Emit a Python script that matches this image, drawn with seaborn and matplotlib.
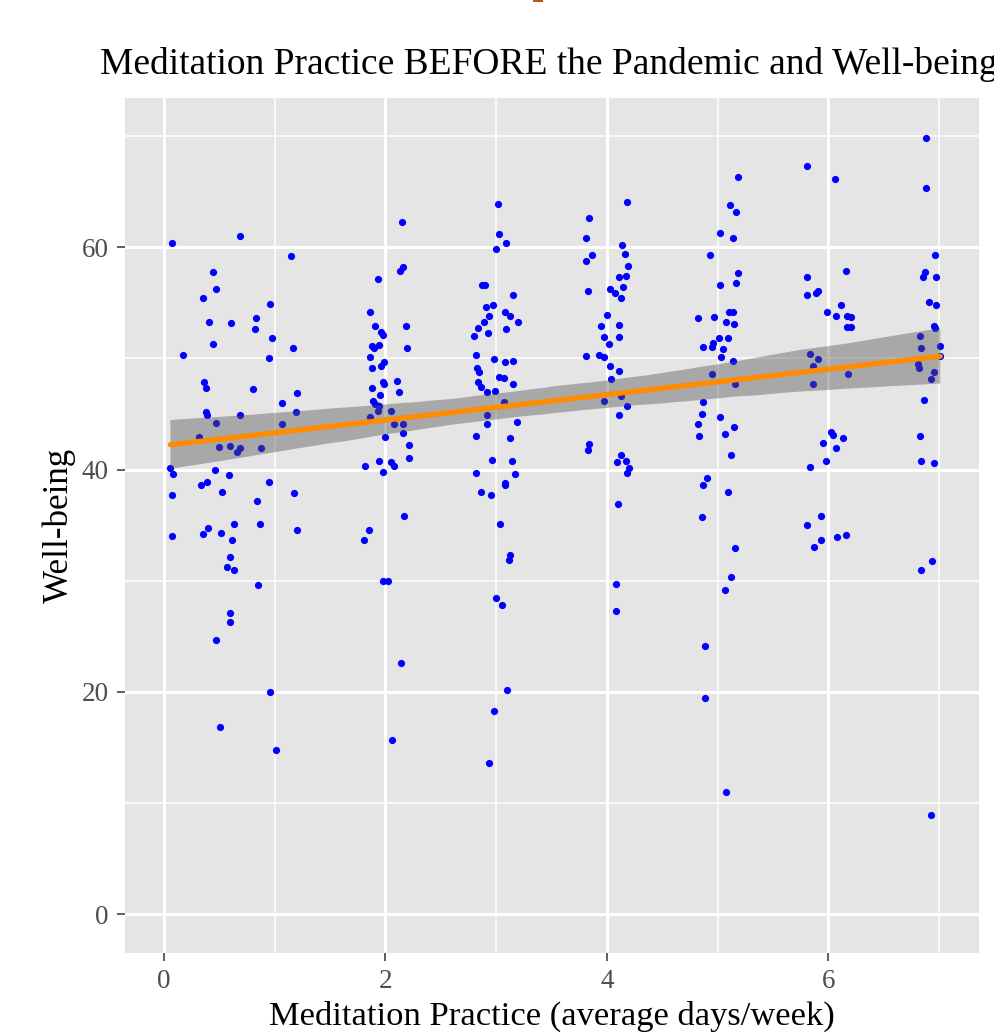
import numpy as np
import pandas as pd
import matplotlib
matplotlib.use("Agg")
import matplotlib.pyplot as plt
from matplotlib.patches import Rectangle
import seaborn as sns

# ---- data (jittered practice days, well-being score) ----
days_g0 = [0.07, 0.69, 1.15, 0.44, 0.47, 0.35, 0.96, 0.41, 0.61, 0.83, 0.82, 0.98, 0.44, 1.17, 0.17,
           0.95, 0.36, 0.38, 0.81, 1.20, 1.07, 1.19, 0.38, 0.39, 0.69, 0.47, 1.07, 0.32, 0.50, 0.60,
           0.69, 0.66, 0.88, 0.06, 0.08, 0.46, 0.59, 0.34, 0.39, 0.95, 0.07, 0.53, 1.18, 0.84, 0.63,
           0.87, 1.20, 0.07, 0.40, 0.35, 0.52, 0.62, 0.60, 0.57, 0.63, 0.85, 0.60, 0.60, 0.47, 0.96,
           0.51, 1.01]
well_g0 = [60.4, 61.0, 59.2, 57.8, 56.2, 55.4, 54.9, 53.3, 53.2, 53.6, 52.6, 51.8, 51.3, 50.9, 50.3,
           50.0, 47.9, 47.3, 47.2, 46.9, 46.0, 45.2, 45.2, 44.9, 44.9, 44.2, 44.1, 42.9, 42.0, 42.1,
           41.9, 41.6, 41.9, 40.1, 39.6, 40.0, 39.5, 38.6, 38.9, 38.9, 37.7, 38.0, 37.9, 37.2, 35.1,
           35.1, 34.6, 34.0, 34.7, 34.2, 34.3, 33.7, 32.1, 31.2, 31.0, 29.6, 27.1, 26.3, 24.7, 20.0,
           16.8, 14.8]

days_g2 = [2.15, 2.16, 2.13, 1.93, 1.86, 1.91, 1.96, 1.98, 2.19, 1.94, 1.90, 1.88, 2.20, 1.86, 1.99,
           1.96, 1.88, 2.11, 1.98, 1.99, 1.88, 2.12, 1.95, 1.89, 1.91, 1.94, 1.93, 2.05, 1.86, 2.08,
           2.16, 2.16, 2.00, 2.21, 2.21, 1.94, 2.05, 2.08, 1.82, 1.98, 2.17, 1.85, 1.81, 1.98, 2.02,
           2.14, 2.06]
well_g2 = [62.3, 58.2, 57.9, 57.1, 54.2, 52.9, 52.4, 52.1, 52.9, 51.2, 50.9, 51.1, 50.9, 50.1, 49.7,
           49.3, 49.1, 48.0, 47.9, 47.7, 47.3, 47.0, 46.7, 46.2, 45.9, 45.7, 45.3, 45.3, 44.7, 44.1,
           44.1, 43.3, 42.9, 42.2, 41.0, 40.8, 40.7, 40.3, 40.3, 39.8, 35.8, 34.6, 33.7, 30.0, 30.0,
           22.6, 15.7]

days_g3 = [3.02, 3.03, 3.09, 3.00, 2.87, 2.90, 3.15, 2.91, 2.97, 2.94, 2.89, 3.08, 3.13, 3.20, 2.84,
           2.93, 3.09, 2.80, 2.82, 2.98, 3.08, 3.15, 2.83, 2.85, 3.03, 3.07, 3.15, 2.84, 2.86, 2.92,
           2.99, 3.07, 2.92, 2.92, 3.19, 2.82, 3.13, 2.96, 3.14, 2.82, 3.17, 3.08, 3.08, 2.86, 2.95,
           3.04, 3.13, 3.12, 3.00, 3.05, 3.10, 2.98, 2.94]
well_g3 = [63.9, 61.2, 60.4, 59.8, 56.6, 56.6, 55.7, 54.6, 54.8, 53.8, 53.3, 54.2, 53.8, 53.3, 52.7,
           52.3, 52.6, 52.0, 50.3, 49.9, 49.7, 49.8, 49.1, 48.8, 48.3, 48.2, 47.7, 47.9, 47.4, 47.0,
           47.1, 46.1, 44.9, 44.1, 44.3, 43.0, 42.8, 40.9, 40.8, 39.7, 39.6, 38.8, 38.6, 38.0, 37.7,
           35.1, 32.3, 31.9, 28.4, 27.8, 20.2, 18.3, 13.6]

days_g4 = [4.18, 3.84, 3.81, 4.14, 3.87, 3.81, 4.16, 4.19, 4.11, 4.17, 4.15, 3.83, 4.03, 4.07, 4.13,
           4.00, 3.95, 4.11, 3.97, 4.11, 4.02, 3.81, 3.93, 3.97, 4.03, 4.11, 4.04, 3.97, 4.13, 4.18,
           4.11, 3.84, 3.83, 4.13, 4.09, 4.17, 4.20, 4.18, 4.10, 4.08, 4.08]
well_g4 = [64.1, 62.6, 60.8, 60.2, 59.3, 58.8, 59.4, 58.3, 57.3, 57.4, 56.4, 56.1, 56.2, 55.9, 55.4,
           53.9, 52.9, 53.0, 51.9, 51.9, 51.3, 50.2, 50.3, 50.1, 49.3, 48.9, 48.1, 46.2, 46.6, 45.7,
           44.9, 42.3, 41.8, 41.3, 40.7, 40.8, 40.1, 39.7, 36.9, 29.7, 27.3]

days_g5 = [5.18, 5.11, 5.17, 5.02, 5.14, 4.93, 5.18, 5.17, 5.02, 4.82, 4.97, 5.10, 5.14, 5.08, 5.15,
           5.01, 5.09, 4.87, 4.95, 4.96, 5.05, 5.03, 5.14, 4.95, 5.16, 4.87, 4.86, 5.02, 4.82, 5.15,
           4.83, 5.07, 5.12, 4.90, 4.87, 5.09, 4.86, 5.16, 5.12, 5.07, 4.89, 4.89, 5.08]
well_g5 = [66.3, 63.8, 63.2, 61.3, 60.8, 59.3, 57.7, 56.8, 56.6, 53.6, 53.7, 54.2, 54.2, 53.3, 53.1,
           51.8, 51.8, 51.0, 51.0, 51.4, 50.8, 50.1, 49.8, 48.6, 47.7, 46.1, 45.0, 44.7, 44.1, 43.8,
           43.0, 43.2, 41.3, 39.2, 38.6, 38.0, 35.7, 32.9, 30.3, 29.2, 24.1, 19.4, 11.0]

days_g6 = [5.81, 6.06, 6.16, 5.81, 5.81, 5.89, 5.91, 6.11, 5.99, 6.07, 6.17, 6.20, 6.17, 6.20, 5.83,
           5.91, 5.86, 6.18, 5.86, 6.02, 6.04, 6.13, 5.95, 6.07, 5.98, 5.83, 5.93, 5.81, 6.08, 6.16,
           5.93, 5.87]
well_g6 = [67.3, 66.1, 57.9, 57.3, 55.7, 55.9, 56.1, 54.8, 54.2, 53.8, 53.8, 53.7, 52.8, 52.8, 50.4,
           49.9, 49.3, 48.6, 47.7, 43.4, 43.1, 42.8, 42.4, 41.9, 40.8, 40.2, 35.8, 35.0, 33.9, 34.1,
           33.7, 33.0]

days_g7 = [6.88, 6.88, 6.96, 6.87, 6.85, 6.97, 6.91, 6.97, 6.95, 6.96, 6.83, 7.01, 6.84, 7.01, 6.81,
           6.82, 6.95, 6.93, 6.86, 6.83, 6.84, 6.95, 6.94, 6.84, 6.93]
well_g7 = [69.8, 65.3, 59.3, 57.8, 57.3, 57.3, 55.1, 54.8, 52.9, 52.7, 52.0, 51.1, 50.9, 50.2, 49.5,
           49.1, 48.8, 48.1, 46.3, 43.0, 40.8, 40.6, 31.8, 31.0, 8.9]

x_ticks = [0, 2, 4, 6]
y_ticks = [0, 20, 40, 60]
title = "Meditation Practice BEFORE the Pandemic and Well-being"
x_label = "Meditation Practice (average days/week)"
y_label = "Well-being"

df = pd.DataFrame({
    "practice": days_g0 + days_g2 + days_g3 + days_g4 + days_g5 + days_g6 + days_g7,
    "wellbeing": well_g0 + well_g2 + well_g3 + well_g4 + well_g5 + well_g6 + well_g7,
})

# ---- style (ggplot2 theme_gray look) ----
sns.set_theme(style="darkgrid", rc={
    "axes.facecolor": "#E5E5E5",
    "grid.color": "white",
    "figure.facecolor": "white",
})
plt.rcParams["font.family"] = ["Liberation Serif", "DejaVu Serif"]

W, H = 995, 1036
fig = plt.figure(figsize=(W / 100, H / 100), dpi=100)
pl, pr, pt, pb = 125, 979, 98.3, 953
ax = fig.add_axes([pl / W, 1 - pb / H, (pr - pl) / W, (pb - pt) / H])

sns.regplot(data=df, x="practice", y="wellbeing", ax=ax, ci=95, n_boot=1000, seed=7,
            scatter_kws=dict(color="blue", s=27, linewidths=0, alpha=1, zorder=2),
            line_kws=dict(color="#FF8C00", lw=3.8, zorder=4))

# confidence band: grey, translucent, over the points
for coll in ax.collections[1:]:
    coll.set_facecolor("#555555")
    coll.set_alpha(0.42)
    coll.set_edgecolor("none")
    coll.set_zorder(3)

ax.set_xlim(-0.35, 7.36)
ax.set_ylim(-3.5, 73.4)
ax.set_xticks(x_ticks)
ax.set_yticks(y_ticks)
ax.set_xticks([1, 3, 5, 7], minor=True)
ax.set_yticks([10, 30, 50, 70], minor=True)
ax.grid(which="major", color="white", lw=2.2)
ax.grid(which="minor", color="white", lw=1.1)
ax.set_axisbelow(True)
for s in ax.spines.values():
    s.set_visible(False)

ax.tick_params(which="major", length=5.8, width=1.1, color="#333333", pad=5.8,
               labelsize=19.5, labelcolor="#4D4D4D", bottom=True, left=True)
ax.tick_params(which="minor", length=0)

ax.set_xlabel(x_label, fontsize=24.8, color="black")
ax.set_ylabel(y_label, fontsize=25.2, color="black")
ax.xaxis.label.set_va("baseline")
ax.xaxis.set_label_coords(0.5, -(1025 - pb) / (pb - pt))
ax.yaxis.label.set_va("baseline")
ax.yaxis.set_label_coords(-(pl - 68) / (pr - pl), 0.5)

fig.text(100 / W, 1 - 74 / H, title, fontsize=27, ha="left", va="baseline", color="black")

# small orange mark at the very top of the reference image
fig.add_artist(Rectangle((533 / W, 1 - 2 / H), 10 / W, 2 / H, transform=fig.transFigure,
                         facecolor="#B65A1C", edgecolor="none"))

fig.savefig("out.png", dpi=100)
